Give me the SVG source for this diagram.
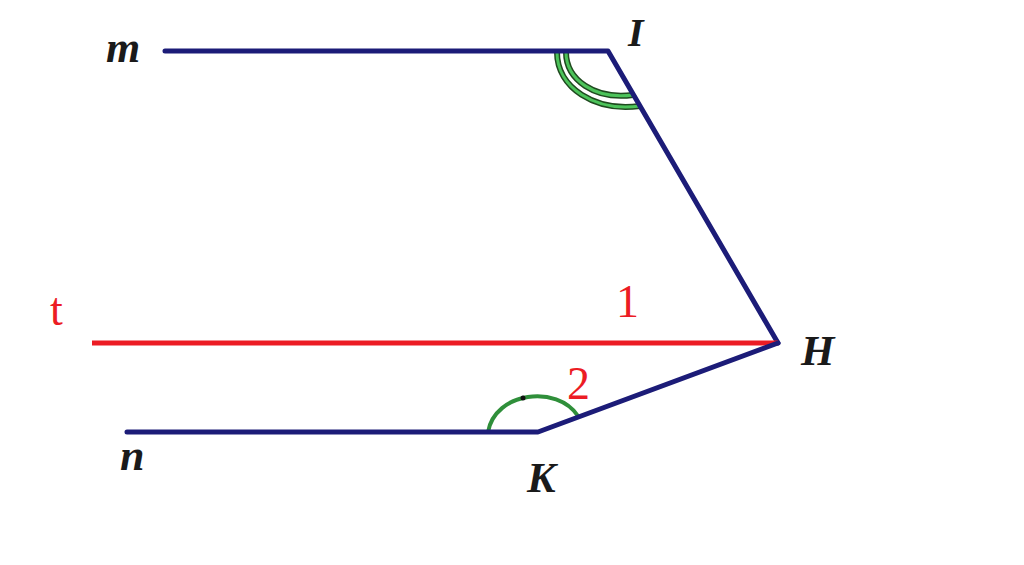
<svg xmlns="http://www.w3.org/2000/svg" width="1024" height="565" viewBox="0 0 1024 565">
<style>
.ln{stroke:#1c1c78;stroke-width:5;fill:none;stroke-linecap:round;stroke-linejoin:round}
.red{stroke:#ec1c24;stroke-width:5;fill:none}
.arcD{stroke:#1f4a1f;stroke-width:6;fill:none}
.arcG{stroke:#4cc35a;stroke-width:3;fill:none}
.arcK{stroke:#2f8f3a;stroke-width:4;fill:none}
.lab{font-family:"Liberation Serif",serif;font-weight:bold;font-style:italic;fill:#1a1a1a}
.num{font-family:"Liberation Serif",serif;fill:#ec1c24}
</style>
<rect width="1024" height="565" fill="#ffffff"/>
<g id="arcs">
<path class="arcD" d="M557,52 C557,88 595,112 640,106"/>
<path class="arcG" d="M557,52 C557,88 595,112 640,106"/>
<path class="arcD" d="M566,52 C566,80 595,100 633,95"/>
<path class="arcG" d="M566,52 C566,80 595,100 633,95"/>
<path class="arcK" d="M488,432 C495,392 557,384 578,416"/>
<circle cx="523" cy="398" r="2.5" fill="#111"/>
</g>
<g id="connectors">
<polyline class="ln" points="165,51 608,51 778,343"/>
<line class="red" x1="92" y1="343" x2="778" y2="343"/>
<polyline class="ln" points="127,432 538,432 778,343"/>
</g>
<g id="labels">
<text class="lab" x="106" y="62" font-size="44">m</text>
<text class="lab" x="628" y="46" font-size="40">I</text>
<text class="lab" x="801" y="365" font-size="43">H</text>
<text class="lab" x="527" y="492" font-size="43">K</text>
<text class="lab" x="120" y="470" font-size="44">n</text>
<text class="num" x="50" y="325" font-size="46">t</text>
<text class="num" x="616" y="317" font-size="46">1</text>
<text class="num" x="567" y="399" font-size="46">2</text>
</g>
</svg>
